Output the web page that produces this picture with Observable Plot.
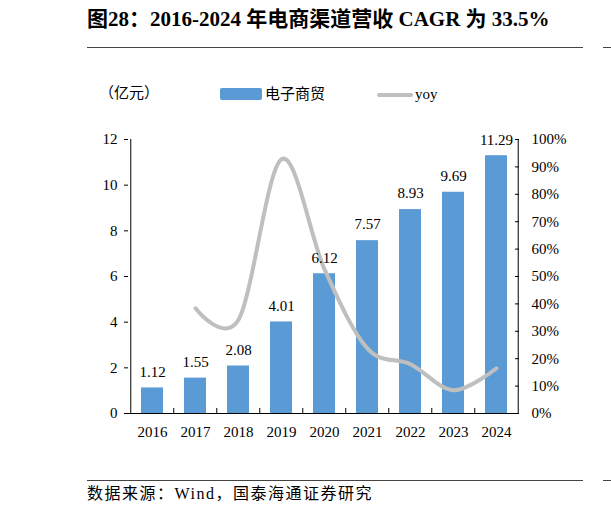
<!DOCTYPE html>
<html><head><meta charset="utf-8">
<script src="https://cdn.jsdelivr.net/npm/d3@7"></script>
<script src="https://cdn.jsdelivr.net/npm/@observablehq/plot@0.6"></script>
<style>
body{margin:0;background:#fff;}
#wrap{position:relative;width:611px;height:513px;overflow:hidden;font-family:"Liberation Serif","Noto Sans CJK SC",serif;color:#000;}
.t{position:absolute;white-space:nowrap;line-height:1;}
.hr{position:absolute;height:1px;background:#444;}
#chart{position:absolute;left:0;top:125px;}
</style></head><body><div id="wrap">
<div class="t" style="left:87px;top:9px;font-size:21px;font-weight:bold;">图28：2016-2024 年电商渠道营收 CAGR 为 33.5%</div>
<div class="hr" style="left:87px;top:47px;width:496px;"></div>
<div class="hr" style="left:603px;top:47px;width:8px;"></div>
<div class="t" style="left:99px;top:86px;font-size:15px;">（亿元）</div>
<div style="position:absolute;left:220px;top:88px;width:42px;height:12px;border-radius:2px;background:#5B9BD5;"></div>
<div class="t" style="left:265px;top:87px;font-size:15px;">电子商贸</div>
<div style="position:absolute;left:377px;top:93px;width:36px;height:4px;border-radius:2px;background:#BFBFBF;"></div>
<div class="t" style="left:415px;top:87px;font-size:15px;">yoy</div>
<div id="chart"></div>
<div class="hr" style="left:87px;top:480px;width:496px;"></div>
<div class="hr" style="left:603px;top:480px;width:8px;"></div>
<div class="t" style="left:87px;top:486px;font-size:16px;letter-spacing:1.5px;">数据来源：Wind，国泰海通证券研究</div>
</div>
<script>
const years = ["2016","2017","2018","2019","2020","2021","2022","2023","2024"];
const revenue = [1.12,1.55,2.08,4.01,6.12,7.57,8.93,9.69,11.29];
const yoy = [null,0.384,0.342,0.928,0.526,0.237,0.180,0.085,0.165];
const leftTicks = [0,2,4,6,8,10,12];
const rightTicks = [0,0.1,0.2,0.3,0.4,0.5,0.6,0.7,0.8,0.9,1.0];
const rightMax = 1.0, leftMax = 12;

const W = 611, H = 330, mL = 128, mR = 92, mT = 14, mB = 42;
const plotW = W - mL - mR, plotH = H - mT - mB;
const step = plotW / years.length;

const rows = years.map((y, i) => ({year: y, rev: revenue[i], yoy: yoy[i]}));
const yoyRows = rows.filter(d => d.yoy != null);
const toLeft = v => v / rightMax * leftMax;

const chart = Plot.plot({
  width: W, height: H,
  marginLeft: mL, marginRight: mR, marginTop: mT, marginBottom: mB,
  style: {fontFamily: '"Liberation Serif","Noto Sans CJK SC",serif', fontSize: "15px", color: "#000", background: "transparent"},
  x: {type: "band", domain: years, paddingInner: 0.5, paddingOuter: 0.25, axis: null},
  y: {domain: [0, leftMax], axis: null},
  marks: [
    Plot.barY(rows, {x: "year", y: "rev", fill: "#5B9BD5"}),
    Plot.line(yoyRows, {x: "year", y: d => toLeft(d.yoy), stroke: "#BFBFBF", strokeWidth: 4, curve: "cardinal", tension: 0, strokeLinecap: "round"}),
    Plot.text(rows, {x: "year", y: "rev", text: d => d.rev.toFixed(2), dy: -16, fontSize: 15, fill: "#000"}),
    Plot.ruleY([0], {stroke: "#000", strokeWidth: 1}),
    Plot.ruleX([years[0]], {dx: -step / 2, stroke: "#000"}),
    Plot.ruleX([years[years.length - 1]], {dx: step / 2, stroke: "#000"}),
    Plot.tickX(years.slice(1), {x: d => d, dx: -step / 2, insetTop: plotH - 5, stroke: "#000"}),
    Plot.axisY(leftTicks, {anchor: "left", label: null, tickSize: 4, tickPadding: 7, fontSize: 15, tickFormat: d => String(d), stroke: "#000", fill: "#000"}),
    Plot.axisY(rightTicks.map(toLeft), {anchor: "right", label: null, tickSize: 0, tickPadding: 12, fontSize: 15, fill: "#000", tickFormat: d => Math.round(d / leftMax * 100) + "%"}),
    Plot.tickY(rightTicks.map(toLeft), {y: d => d, insetLeft: plotW - 4, stroke: "#000"}),
    Plot.axisX(years, {anchor: "bottom", label: null, tickSize: 0, tickPadding: 13, fontSize: 15, fill: "#000"})
  ]
});
document.getElementById("chart").appendChild(chart);
</script>
</body></html>
